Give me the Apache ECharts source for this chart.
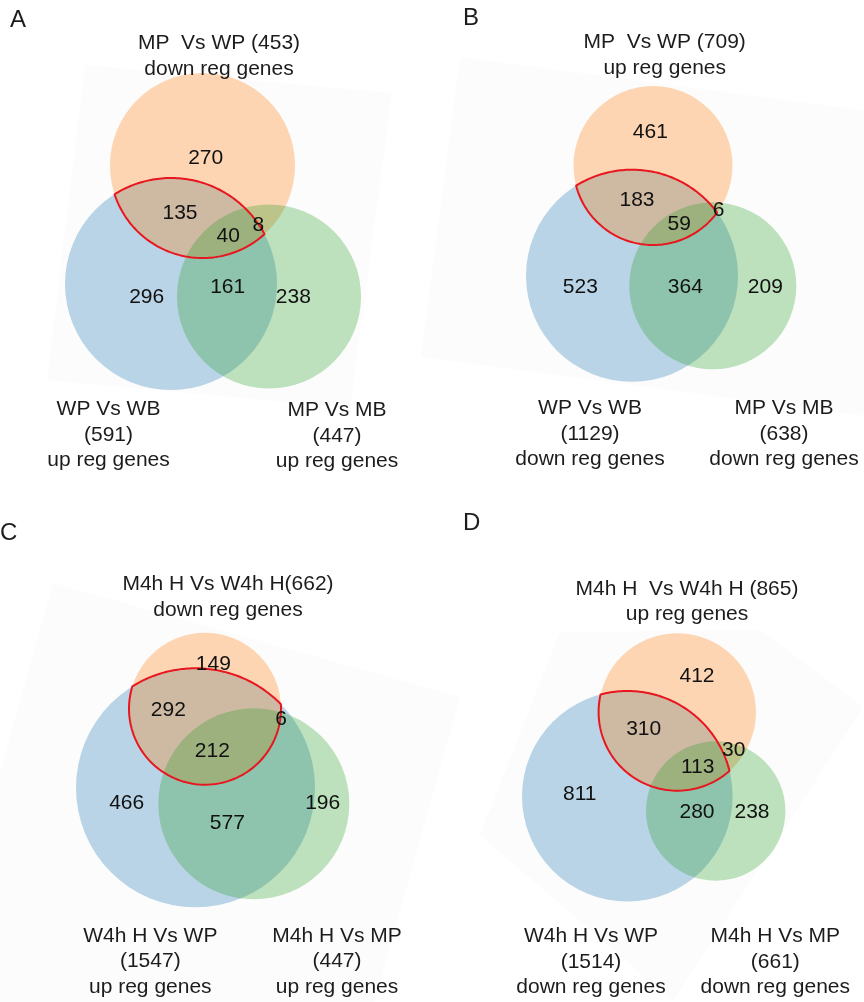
<!DOCTYPE html>
<html>
<head>
<meta charset="utf-8">
<script src="https://cdn.jsdelivr.net/npm/echarts@6/dist/echarts.min.js"></script>
<style>
  html, body { margin: 0; padding: 0; background: #ffffff; }
  #chart { width: 864px; height: 1002px; }
</style>
</head>
<body>
<div id="chart"></div>
<script>
// Region counts, in the order:
// top only, top∩left, all three, top∩right, left only, left∩right, right only
const countsA = [270, 135, 40, 8, 296, 161, 238];
const countsB = [461, 183, 59, 6, 523, 364, 209];
const countsC = [149, 292, 212, 6, 466, 577, 196];
const countsD = [412, 310, 113, 30, 811, 280, 238];

// Set names, totals and direction (top, left, right)
const setNamesA = ['MP  Vs WP', 'WP Vs WB', 'MP Vs MB'];
const setTotalsA = [453, 591, 447];
const setDirsA = ['down reg genes', 'up reg genes', 'up reg genes'];

const setNamesB = ['MP  Vs WP', 'WP Vs WB', 'MP Vs MB'];
const setTotalsB = [709, 1129, 638];
const setDirsB = ['up reg genes', 'down reg genes', 'down reg genes'];

const setNamesC = ['M4h H Vs W4h H', 'W4h H Vs WP', 'M4h H Vs MP'];
const setTotalsC = [662, 1547, 447];
const setDirsC = ['down reg genes', 'up reg genes', 'up reg genes'];

const setNamesD = ['M4h H  Vs W4h H', 'W4h H Vs WP', 'M4h H Vs MP'];
const setTotalsD = [865, 1514, 661];
const setDirsD = ['up reg genes', 'down reg genes', 'down reg genes'];

const panelLetters = ['A', 'B', 'C', 'D'];

// ---- layout (plot units = pixels of the 864 x 1002 canvas) ----
const panels = [
  {
    counts: countsA, names: setNamesA, totals: setTotalsA, dirs: setDirsA, sep: ' ',
    letterPos: [10, 20],
    circles: [[202.5, 165.5, 92.5], [171, 284, 106], [269, 296.5, 92]],
    countPos: [[205.7, 158.7], [180, 213.7], [228.3, 236], [258.3, 225], [146.7, 297.7], [227.7, 287.7], [293.3, 297.7]],
    topPos: [219, 43.5], leftPos: [108.5, 409.5], rightPos: [337, 410.5],
    backdrop: [[85, 65], [392, 93], [350, 408], [47, 380]]
  },
  {
    counts: countsB, names: setNamesB, totals: setTotalsB, dirs: setDirsB, sep: ' ',
    letterPos: [463, 18],
    circles: [[653, 165.5, 79.5], [632, 275.7, 106], [712.8, 285.8, 83.5]],
    countPos: [[650.3, 132.7], [637, 200], [679.3, 224.3], [718.7, 210.3], [580.3, 287.7], [685.3, 287.7], [765.3, 287.7]],
    topPos: [664.7, 42.7], leftPos: [590, 408.5], rightPos: [784, 408.5],
    backdrop: [[460, 57], [905, 116], [866, 416], [421, 357]]
  },
  {
    counts: countsC, names: setNamesC, totals: setTotalsC, dirs: setDirsC, sep: '',
    letterPos: [0, 533],
    circles: [[205, 708.7, 76], [195.5, 787.8, 119.5], [253.8, 803.8, 95.5]],
    countPos: [[213.3, 664.3], [168.3, 710], [212.3, 751], [281, 719.3], [126.7, 803.7], [227.3, 823.7], [322.7, 803.7]],
    topPos: [228, 584.5], leftPos: [150.3, 936.2], rightPos: [337, 936.2],
    backdrop: [[53, 583], [460, 697], [346, 1104], [-61, 990]]
  },
  {
    counts: countsD, names: setNamesD, totals: setTotalsD, dirs: setDirsD, sep: ' ',
    letterPos: [463, 523],
    circles: [[677.3, 712, 78.7], [627.3, 796.3, 105.3], [715.7, 811, 69.7]],
    countPos: [[697, 676.7], [643.7, 729.3], [697.7, 767.7], [733.7, 750.3], [579.7, 794.3], [697, 812.7], [752, 812.7]],
    topPos: [687, 589], leftPos: [591, 936.5], rightPos: [775.3, 936.5],
    backdrop: [[480, 835], [560, 632], [760, 630], [863, 707], [673, 1001]]
  }
];

const FONT_FAMILY = "'Liberation Sans', Arial, Helvetica, sans-serif";
const INK = '#1c1c1c';
const TEXT_SIZE = 21;
const LETTER_SIZE = 24;
const LINE_GAP = 25.5;
// fills for the top, left and right sets
const SET_COLORS = ['rgba(255,127,14,0.31)', 'rgba(31,119,180,0.3)', 'rgba(44,160,44,0.3)'];
const DRAW_ORDER = [1, 0, 2]; // left, then top, then right on top
const HIGHLIGHT = '#e8161e';
const BACKDROP = '#fcfcfc';

// ---- series data built from the arrays above ----
const circleData = [];
panels.forEach((p) => {
  DRAW_ORDER.forEach((k) => {
    const c = p.circles[k];
    circleData.push([c[0], c[1], c[2], k]);
  });
});

const countData = [];
panels.forEach((p) => {
  p.counts.forEach((v, i) => {
    countData.push([p.countPos[i][0], p.countPos[i][1], v]);
  });
});

const textItems = [];
panels.forEach((p, pi) => {
  textItems.push({ x: p.letterPos[0], y: p.letterPos[1], text: panelLetters[pi], size: LETTER_SIZE, align: 'left' });
  const topLines = [p.names[0] + p.sep + '(' + p.totals[0] + ')', p.dirs[0]];
  const leftLines = [p.names[1], '(' + p.totals[1] + ')', p.dirs[1]];
  const rightLines = [p.names[2], '(' + p.totals[2] + ')', p.dirs[2]];
  [[p.topPos, topLines], [p.leftPos, leftLines], [p.rightPos, rightLines]].forEach(([pos, lines]) => {
    lines.forEach((t, li) => {
      textItems.push({ x: pos[0], y: pos[1] + li * LINE_GAP, text: t, size: TEXT_SIZE, align: 'center' });
    });
  });
});

// ---- geometry helpers for the highlighted top∩left lens ----
function arcPoints(c, r, pa, pb, toward, n, out) {
  const TAU = Math.PI * 2;
  const norm = (v) => ((v % TAU) + TAU) % TAU;
  const aa = Math.atan2(pa[1] - c[1], pa[0] - c[0]);
  const ab = Math.atan2(pb[1] - c[1], pb[0] - c[0]);
  const at = Math.atan2(toward[1] - c[1], toward[0] - c[0]);
  let sweep = norm(ab - aa);
  if (norm(at - aa) > sweep) sweep -= TAU;
  for (let i = 0; i <= n; i++) {
    const t = aa + (sweep * i) / n;
    out.push([c[0] + r * Math.cos(t), c[1] + r * Math.sin(t)]);
  }
}
function lensPoints(c1, r1, c2, r2) {
  const dx = c2[0] - c1[0], dy = c2[1] - c1[1];
  const d = Math.hypot(dx, dy);
  const a = (r1 * r1 - r2 * r2 + d * d) / (2 * d);
  const h = Math.sqrt(Math.max(r1 * r1 - a * a, 0));
  const ux = dx / d, uy = dy / d;
  const px = c1[0] + a * ux, py = c1[1] + a * uy;
  const p1 = [px - h * uy, py + h * ux];
  const p2 = [px + h * uy, py - h * ux];
  const pts = [];
  arcPoints(c1, r1, p1, p2, c2, 80, pts);
  arcPoints(c2, r2, p2, p1, c1, 80, pts);
  return pts;
}

const chart = echarts.init(document.getElementById('chart'), null, { renderer: 'canvas' });

const option = {
  animation: false,
  backgroundColor: '#ffffff',
  grid: { left: 0, right: 0, top: 0, bottom: 0 },
  xAxis: { type: 'value', min: 0, max: 864, show: false },
  yAxis: { type: 'value', min: 0, max: 1002, inverse: true, show: false },
  series: [
    {
      // faint panel backdrops
      type: 'custom',
      coordinateSystem: 'cartesian2d',
      silent: true,
      clip: false,
      data: panels.map((p, i) => [i]),
      renderItem: (params, api) => {
        const p = panels[api.value(0)];
        const pts = p.backdrop.map((q) => api.coord(q));
        return { type: 'polygon', shape: { points: pts }, style: { fill: BACKDROP, stroke: null } };
      }
    },
    {
      // set circles
      type: 'custom',
      coordinateSystem: 'cartesian2d',
      silent: true,
      clip: false,
      data: circleData,
      renderItem: (params, api) => {
        const c = api.coord([api.value(0), api.value(1)]);
        const r = api.size([api.value(2), 0])[0];
        return { type: 'circle', shape: { cx: c[0], cy: c[1], r: r }, style: { fill: SET_COLORS[api.value(3)] } };
      }
    },
    {
      // red outline of the top ∩ left overlap
      type: 'custom',
      coordinateSystem: 'cartesian2d',
      silent: true,
      clip: false,
      data: panels.map((p, i) => [i]),
      renderItem: (params, api) => {
        const p = panels[api.value(0)];
        const top = p.circles[0], left = p.circles[1];
        const c1 = api.coord([top[0], top[1]]), r1 = api.size([top[2], 0])[0];
        const c2 = api.coord([left[0], left[1]]), r2 = api.size([left[2], 0])[0];
        return {
          type: 'polygon',
          shape: { points: lensPoints(c1, r1, c2, r2) },
          style: { fill: null, stroke: HIGHLIGHT, lineWidth: 2, lineJoin: 'round' }
        };
      }
    },
    {
      // region counts
      type: 'custom',
      coordinateSystem: 'cartesian2d',
      silent: true,
      clip: false,
      data: countData,
      renderItem: (params, api) => {
        const c = api.coord([api.value(0), api.value(1)]);
        return {
          type: 'text',
          x: c[0], y: c[1],
          style: {
            text: String(api.value(2)),
            font: TEXT_SIZE + 'px ' + FONT_FAMILY,
            fill: '#111111',
            align: 'center', verticalAlign: 'middle',
            textAlign: 'center', textVerticalAlign: 'middle'
          }
        };
      }
    },
    {
      // panel letters and set labels
      type: 'custom',
      coordinateSystem: 'cartesian2d',
      silent: true,
      clip: false,
      data: textItems.map((t) => [t.x, t.y]),
      renderItem: (params, api) => {
        const t = textItems[params.dataIndex];
        const c = api.coord([api.value(0), api.value(1)]);
        return {
          type: 'text',
          x: c[0], y: c[1],
          style: {
            text: t.text,
            font: t.size + 'px ' + FONT_FAMILY,
            fill: INK,
            align: t.align, verticalAlign: 'middle',
            textAlign: t.align, textVerticalAlign: 'middle'
          }
        };
      }
    }
  ]
};

chart.setOption(option);
</script>
</body>
</html>
